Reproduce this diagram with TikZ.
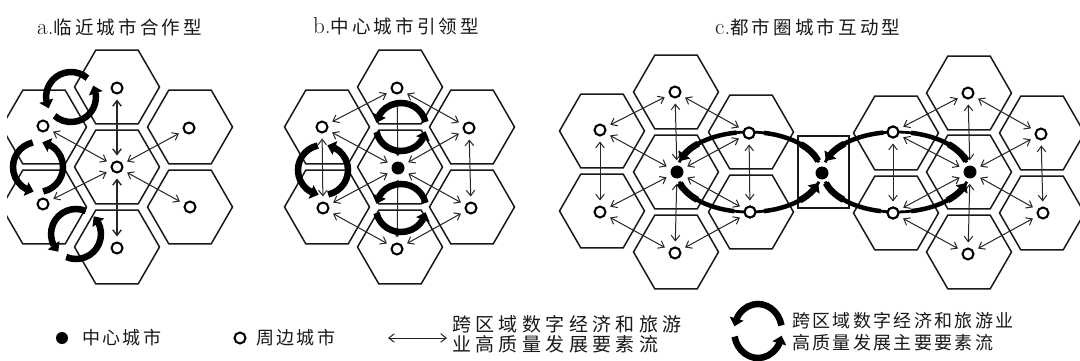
\documentclass[tikz,border=0pt]{standalone}
\usepackage{fontspec}
\newfontfamily\cjk{Noto Sans CJK SC}
\usetikzlibrary{arrows.meta,bending}
\newcommand\hexat[2]{\draw[hexa] (#1,-#2) ++(0:42.5) -- ++(120:42.5) -- ++(180:42.5) -- ++(240:42.5) -- ++(300:42.5) -- ++(0:42.5) -- cycle;}
\newcommand\cycl[5]{%
  \draw[cyc] (#1,-#2) ++({#5+12}:#3 and #4) arc[start angle={#5+12}, end angle={#5+170}, x radius=#3, y radius=#4];
  \draw[cyc] (#1,-#2) ++({#5+192}:#3 and #4) arc[start angle={#5+192}, end angle={#5+350}, x radius=#3, y radius=#4];}
% \larc{cx}{cy}{rx}{ry}{start}{end}{style}
\newcommand\larc[7]{\draw[#7] (#1,-#2) ++(#5:#3 and #4) arc[start angle=#5, end angle=#6, x radius=#3, y radius=#4];}
\newcommand\bigloop[4]{%
  \larc{#1}{#2}{#3}{#4}{14}{166}{loopthin}
  \larc{#1}{#2}{#3}{#4}{194}{346}{loopthin}
  \larc{#1}{#2}{#3}{#4}{100}{145}{loopmid}
  \larc{#1}{#2}{#3}{#4}{135}{164}{looptip}
  \larc{#1}{#2}{#3}{#4}{196}{224}{loopthick}
  \larc{#1}{#2}{#3}{#4}{218}{258}{loopmid}
  \larc{#1}{#2}{#3}{#4}{282}{325}{loopmid}
  \larc{#1}{#2}{#3}{#4}{315}{344}{looptip}
  \larc{#1}{#2}{#3}{#4}{16}{44}{loopthick}
  \larc{#1}{#2}{#3}{#4}{38}{78}{loopmid}}
\begin{document}
\begin{tikzpicture}[x=1pt,y=1pt,
  hexa/.style={draw=black!90, line width=1.5pt, line join=miter},
  pc/.style={circle, draw=black, line width=2pt, fill=white, minimum size=11pt, inner sep=0pt},
  cc/.style={circle, fill=black, minimum size=13pt, inner sep=0pt},
  flow/.style={draw=black!85, line width=1pt, {Straight Barb[length=5.5pt,width=8.5pt]}-{Straight Barb[length=5.5pt,width=8.5pt]}, shorten >=5pt, shorten <=5pt},
  vflow/.style={flow, line width=1.4pt},
  cyc/.style={draw=black, line width=6.5pt, -{Triangle[length=8pt,width=14pt]}},
  loopthin/.style={draw=black, line width=2.8pt},
  loopmid/.style={draw=black, line width=4.5pt},
  loopthick/.style={draw=black, line width=6.5pt},
  looptip/.style={draw=black, line width=6.5pt, -{Triangle[length=8pt,width=14pt]}},
  lbl/.style={anchor=west, inner sep=0pt, text=black!90},
]
\fill[white] (0,0) rectangle (1080,-361);
\useasboundingbox (0,0) rectangle (1080,-361);

% ---------- titles ----------
\node[lbl] (ta) at (37,-27) {\fontsize{23}{24}\selectfont a.\cjk\fontsize{18.5}{20}\selectfont\addfontfeature{LetterSpace=17}临近城市合作型};
\node[lbl] (tb) at (313,-26) {\fontsize{23}{24}\selectfont b.\cjk\fontsize{18.5}{20}\selectfont\addfontfeature{LetterSpace=17}中心城市引领型};
\node[lbl] (tc) at (715,-27) {\fontsize{23}{24}\selectfont c.\cjk\fontsize{18.5}{20}\selectfont\addfontfeature{LetterSpace=17}都市圈城市互动型};

% ---------- hexagons ----------
\begin{scope}
\clip (7,0) rectangle (1080,-361);
\hexat{117}{167}\hexat{117}{87}\hexat{190}{127}\hexat{190}{207}\hexat{117}{247}\hexat{44}{207}\hexat{44}{127}
\end{scope}
\hexat{400}{167}\hexat{400}{87}\hexat{472}{127}\hexat{472}{207}\hexat{400}{247}\hexat{327}{207}\hexat{327}{127}
\hexat{676}{172}\hexat{676}{92}\hexat{751}{132}\hexat{751}{212}\hexat{676}{252}\hexat{602}{211}\hexat{602}{131}
\hexat{969}{172}\hexat{969}{93}\hexat{1042}{133}\hexat{1042}{213}\hexat{969}{252}\hexat{896}{213}\hexat{896}{133}
\draw[hexa] (798,-136) rectangle (849,-208);

% ---------- city nodes ----------
\node[pc] (a0) at (117,-167) {};
\node[pc] (a1) at (117,-88) {};
\node[pc] (a2) at (189,-128) {};
\node[pc] (a3) at (190,-207) {};
\node[pc] (a4) at (117,-248) {};
\node[pc] (a5) at (43,-204) {};
\node[pc] (a6) at (43,-126) {};

\node[cc] (b0) at (398,-168) {};
\node[pc] (b1) at (397,-88) {};
\node[pc] (b2) at (469,-128) {};
\node[pc] (b3) at (471,-208) {};
\node[pc] (b4) at (397,-249) {};
\node[pc] (b5) at (323,-208) {};
\node[pc] (b6) at (322,-127) {};

\node[cc] (l0) at (677,-172) {};
\node[pc] (l1) at (675,-92) {};
\node[pc] (l2) at (749,-133) {};
\node[pc] (l3) at (750,-212) {};
\node[pc] (l4) at (675,-253) {};
\node[pc] (l5) at (600,-212) {};
\node[pc] (l6) at (600,-130) {};

\node[cc] (m) at (822,-173) {};

\node[cc] (r0) at (970,-172) {};
\node[pc] (r1) at (968,-93) {};
\node[pc] (r2) at (1041,-134) {};
\node[pc] (r3) at (1043,-213) {};
\node[pc] (r4) at (968,-254) {};
\node[pc] (r5) at (893,-213) {};
\node[pc] (r6) at (893,-132) {};

% ---------- thin flows ----------
\draw[vflow] (a0) -- (a1);
\draw[vflow] (a0) -- (a4);
\foreach \p in {a2,a3,a5,a6} \draw[flow] (a0) -- (\p);

\foreach \p in {b1,b2,b3,b4,b5,b6} \draw[flow] (b0) -- (\p);
\draw[flow] (b1) -- (b6); \draw[flow] (b1) -- (b2);
\draw[flow] (b4) -- (b5); \draw[flow] (b4) -- (b3);
\draw[flow] (b2) -- (b3); \draw[flow] (b6) -- (b5);

\foreach \p in {l1,l2,l3,l4,l5,l6} \draw[flow] (l0) -- (\p);
\draw[flow] (l1) -- (l6); \draw[flow] (l1) -- (l2);
\draw[flow] (l6) -- (l5); \draw[flow] (l5) -- (l4);
\draw[flow] (l4) -- (l3); \draw[flow] (l2) -- (l3);

\foreach \p in {r1,r2,r3,r4,r5,r6} \draw[flow] (r0) -- (\p);
\draw[flow] (r1) -- (r6); \draw[flow] (r1) -- (r2);
\draw[flow] (r6) -- (r5); \draw[flow] (r5) -- (r4);
\draw[flow] (r4) -- (r3); \draw[flow] (r2) -- (r3);

% ---------- thick cycles ----------
\cycl{71}{97}{25}{25}{37}
\cycl{38}{167}{25}{25}{90}
\cycl{76}{234}{25}{25}{55}
\cycl{401}{127}{25}{24}{0}
\cycl{401}{208}{25}{24}{0}
\cycl{323}{170}{25}{25}{90}

\bigloop{749}{172}{72}{40}
\bigloop{896}{172}{73}{40}

% redraw the circles sitting on the loops
\node[pc] at (l2) {};
\node[pc] at (l3) {};
\node[pc] at (r6) {};
\node[pc] at (r5) {};

% ---------- legend ----------
\node[cc, minimum size=12pt] (kc) at (62,-338) {};
\node[lbl] (kct) at (82,-338) {\cjk\fontsize{18}{20}\selectfont\addfontfeature{LetterSpace=13}中心城市};
\node[pc, minimum size=11pt] (kp) at (240,-338) {};
\node[lbl] (kpt) at (256,-338) {\cjk\fontsize{18}{20}\selectfont\addfontfeature{LetterSpace=13}周边城市};
\coordinate (ka1) at (388,-338);
\coordinate (ka2) at (447,-338);
\draw[flow, shorten >=0pt, shorten <=0pt] (ka1) -- (ka2);
\node[lbl] (kf1) at (452,-324) {\cjk\fontsize{19}{20}\selectfont\addfontfeature{LetterSpace=23}跨区域数字经济和旅游};
\node[lbl] (kf2) at (452,-344) {\cjk\fontsize{19}{20}\selectfont\addfontfeature{LetterSpace=23}业高质量发展要素流};
\cycl{758}{331}{24}{27}{0}
\node[lbl] (kg1) at (792,-321) {\cjk\fontsize{18}{20}\selectfont\addfontfeature{LetterSpace=13}跨区域数字经济和旅游业};
\node[lbl] (kg2) at (792,-343) {\cjk\fontsize{18}{20}\selectfont\addfontfeature{LetterSpace=13}高质量发展主要要素流};
\end{tikzpicture}
\end{document}
